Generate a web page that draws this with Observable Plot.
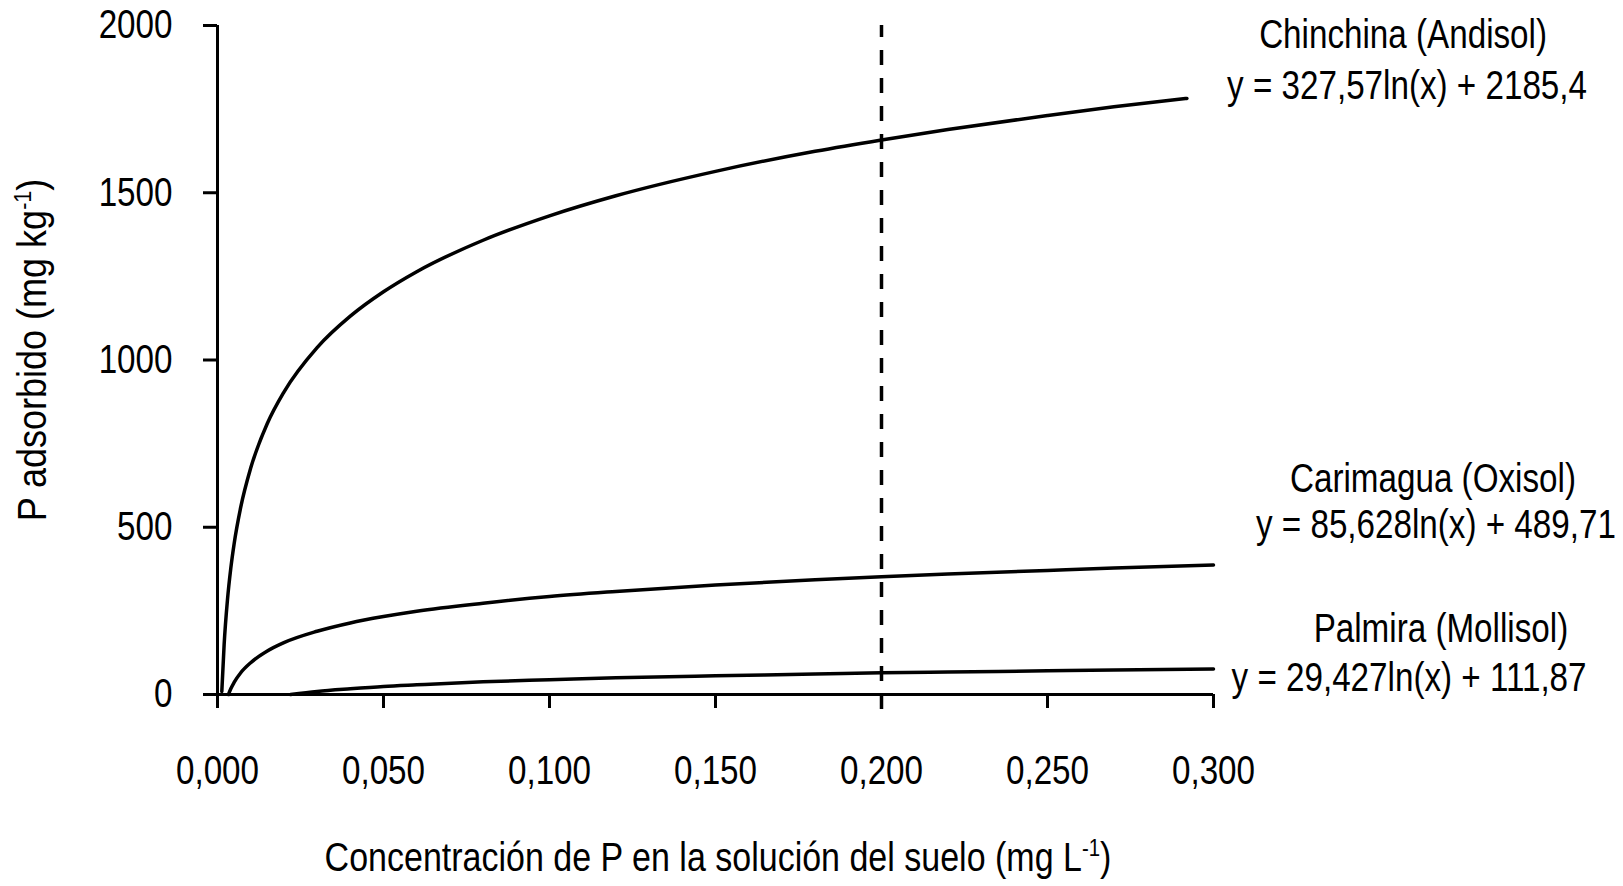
<!DOCTYPE html>
<html>
<head>
<meta charset="utf-8">
<script src="https://cdn.jsdelivr.net/npm/d3@7"></script>
<script src="https://cdn.jsdelivr.net/npm/@observablehq/plot@0.6"></script>
<style>
  body { margin: 0; background: #fff; }
  #chart svg { display: block; }
</style>
</head>
<body>
<div id="chart"></div>
<script>
// valores (P adsorbido, mg/kg)
var chinX = [0.0013, 0.002, 0.003, 0.004, 0.005, 0.007, 0.01, 0.015, 0.02, 0.03, 0.04, 0.05, 0.06, 0.08, 0.1, 0.12, 0.15, 0.18, 0.2, 0.22, 0.25, 0.27, 0.292]
var chinY = [9, 150, 283, 377, 450, 560, 677, 810, 904, 1037, 1131, 1204, 1264, 1358, 1431, 1491, 1564, 1624, 1658, 1689, 1731, 1757, 1782]

var cariX = [0.0033, 0.004, 0.005, 0.007, 0.01, 0.015, 0.02, 0.03, 0.04, 0.05, 0.06, 0.08, 0.1, 0.12, 0.15, 0.18, 0.2, 0.22, 0.25, 0.27, 0.3]
var cariY = [0, 17, 36, 65, 95, 130, 155, 189, 214, 233, 249, 273, 293, 308, 327, 343, 352, 360, 371, 378, 387]

var palmX = [0.022, 0.03, 0.04, 0.05, 0.06, 0.08, 0.1, 0.12, 0.15, 0.18, 0.2, 0.22, 0.25, 0.27, 0.3]
var palmY = [0, 9, 17, 24, 29, 38, 44, 50, 56, 61, 65, 67, 71, 73, 76]

var suelos = ["Chinchina (Andisol)", "Carimagua (Oxisol)", "Palmira (Mollisol)"]
var ecuaciones = ["y = 327,57ln(x) + 2185,4", "y = 85,628ln(x) + 489,71", "y = 29,427ln(x) + 111,87"]

var xTicks = [0, 0.05, 0.1, 0.15, 0.2, 0.25, 0.3]
var yTicks = [0, 500, 1000, 1500, 2000]
var xRef = 0.2

// donde van las etiquetas (coordenadas de datos, fuera del marco)
var nombreAt = [[0.3571, 1970], [0.3661, 643], [0.3685, 194]]
var ecuacionAt = [[0.3583, 1818], [0.3670, 505], [0.3589, 48]]

var serie = (xs, ys, s) => xs.map((x, i) => ({x: x, y: ys[i], suelo: s}))
var datos = serie(chinX, chinY, suelos[0])
  .concat(serie(cariX, cariY, suelos[1]))
  .concat(serie(palmX, palmY, suelos[2]))

var nombres = suelos.map((s, i) => ({x: nombreAt[i][0], y: nombreAt[i][1], t: s}))
var ecs = ecuaciones.map((s, i) => ({x: ecuacionAt[i][0], y: ecuacionAt[i][1], t: s}))

var tituloX = "Concentración de P en la solución del suelo (mg L-1)"
var tituloY = "P adsorbido (mg kg-1)"

var chart = Plot.plot({
  width: 1623,
  height: 886,
  marginLeft: 217,
  marginRight: 410,
  marginTop: 25,
  marginBottom: 192,
  style: {
    fontSize: "40px",
    fontFamily: "'Liberation Sans', Arial, sans-serif",
    color: "#000",
    background: "#fff"
  },
  x: {domain: [0, 0.3]},
  y: {domain: [0, 2000]},
  marks: [
    Plot.axisX({
      ticks: xTicks,
      tickFormat: d => d.toFixed(3).replace(".", ","),
      tickSize: 14,
      tickPadding: 47,
      strokeWidth: 3,
      label: null
    }),
    Plot.axisY({
      ticks: yTicks,
      tickFormat: d => String(d),
      tickSize: 14,
      tickPadding: 31,
      strokeWidth: 3,
      label: null
    }),
    Plot.ruleY([0], {stroke: "#000", strokeWidth: 3}),
    Plot.ruleX([0], {stroke: "#000", strokeWidth: 3}),
    Plot.ruleX([xRef], {y1: -45, y2: 2000, stroke: "#000", strokeWidth: 3.5, strokeDasharray: "15,13"}),
    Plot.line(datos, {x: "x", y: "y", z: "suelo", stroke: "#000", strokeWidth: 3.5, curve: "monotone-x"}),
    Plot.text(nombres, {x: "x", y: "y", text: "t", textAnchor: "middle", lineAnchor: "middle", fill: "#000"}),
    Plot.text(ecs, {x: "x", y: "y", text: "t", textAnchor: "middle", lineAnchor: "middle", fill: "#000"}),
    Plot.text([tituloX], {
      frameAnchor: "bottom", dy: 164, lineAnchor: "middle", fill: "#000"
    }),
    Plot.text([tituloY], {
      frameAnchor: "left", dx: -184, rotate: -90, lineAnchor: "middle", fill: "#000"
    })
  ]
})

// superindice -1 en los titulos de los ejes
d3.select(chart).selectAll("text").each(function () {
  var el = d3.select(this)
  var s = el.text()
  if (!s.endsWith("-1)")) return
  el.text(null)
  el.append("tspan").text(s.slice(0, -3))
  el.append("tspan").attr("dy", -15).attr("font-size", 24).text("-1")
  el.append("tspan").attr("dy", 15).text(")")
})

d3.select('#chart').append(() => chart)

// letra estrecha: se comprime el ancho de cada texto
d3.select(chart).selectAll("text").each(function () {
  var s = this.textContent
  var f = s === tituloY ? 0.9 : s === tituloX ? 0.85 : 0.83
  var w = this.getComputedTextLength()
  this.setAttribute("textLength", w * f)
  this.setAttribute("lengthAdjust", "spacingAndGlyphs")
})

// recentrar los titulos despues de comprimir
d3.select(chart).selectAll("text").each(function () {
  var s = this.textContent
  if (s !== tituloX && s !== tituloY) return
  var r = this.getBoundingClientRect()
  var t = this.getAttribute("transform") || ""
  if (s === tituloY) {
    var dy = 350 - (r.top + r.height / 2)
    this.setAttribute("transform", "translate(0," + dy + ") " + t)
  } else {
    var dx = 718 - (r.left + r.width / 2)
    this.setAttribute("transform", "translate(" + dx + ",0) " + t)
  }
})
</script>
</body>
</html>
